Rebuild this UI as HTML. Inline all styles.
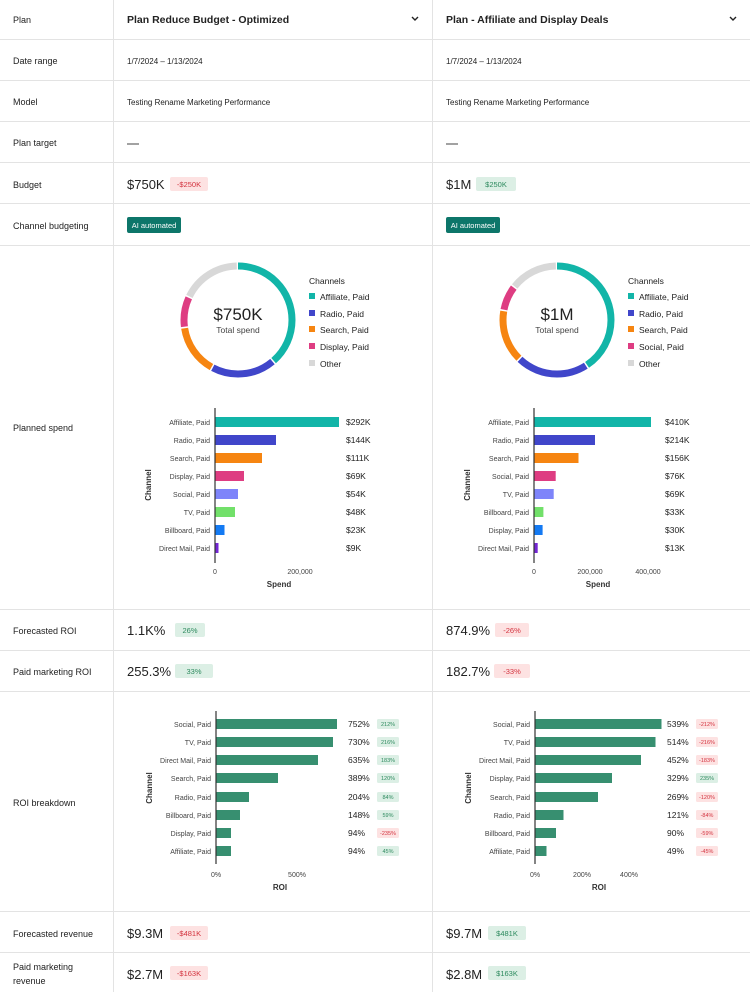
<!DOCTYPE html>
<html><head><meta charset="utf-8"><style>
body{margin:0;background:#fff}
svg text{font-family:"Liberation Sans",sans-serif}
</style></head><body>
<svg width="750" height="992" viewBox="0 0 750 992" xmlns="http://www.w3.org/2000/svg">
<g stroke="#e3e3e3" stroke-width="1">
<line x1="113.5" y1="0" x2="113.5" y2="992"/><line x1="432.5" y1="0" x2="432.5" y2="992"/>
<line x1="0" y1="39.5" x2="750" y2="39.5"/><line x1="0" y1="80.5" x2="750" y2="80.5"/>
<line x1="0" y1="121.5" x2="750" y2="121.5"/><line x1="0" y1="162.5" x2="750" y2="162.5"/>
<line x1="0" y1="203.5" x2="750" y2="203.5"/><line x1="0" y1="245.5" x2="750" y2="245.5"/>
<line x1="0" y1="609.5" x2="750" y2="609.5"/><line x1="0" y1="650.5" x2="750" y2="650.5"/>
<line x1="0" y1="691.5" x2="750" y2="691.5"/><line x1="0" y1="911.5" x2="750" y2="911.5"/>
<line x1="0" y1="952.5" x2="750" y2="952.5"/>
</g>
<g font-size="9" fill="#222">
<text x="13" y="23">Plan</text><text x="13" y="64">Date range</text><text x="13" y="105">Model</text>
<text x="13" y="146">Plan target</text><text x="13" y="188">Budget</text><text x="13" y="229">Channel budgeting</text>
<text x="13" y="431">Planned spend</text><text x="13" y="634">Forecasted ROI</text><text x="13" y="675">Paid marketing ROI</text>
<text x="13" y="806">ROI breakdown</text><text x="13" y="937">Forecasted revenue</text>
<text x="13" y="970">Paid marketing</text><text x="13" y="984">revenue</text>
</g>
<g fill="#222">
<text x="127" y="23" font-size="10.5" font-weight="bold">Plan Reduce Budget - Optimized</text>
<text x="446" y="23" font-size="10.5" font-weight="bold">Plan - Affiliate and Display Deals</text>
<path d="M412 17l3 3 3-3" stroke="#222" stroke-width="1.4" fill="none"/>
<path d="M730 17l3 3 3-3" stroke="#222" stroke-width="1.4" fill="none"/>
<g font-size="8"><text x="127" y="64">1/7/2024 – 1/13/2024</text><text x="446" y="64">1/7/2024 – 1/13/2024</text>
<text x="127" y="105">Testing Rename Marketing Performance</text><text x="446" y="105">Testing Rename Marketing Performance</text></g>
<line x1="127" y1="144" x2="139" y2="144" stroke="#444"/><line x1="446" y1="144" x2="458" y2="144" stroke="#444"/>
<g font-size="13"><text x="127" y="189">$750K</text><text x="446" y="189">$1M</text>
<text x="127" y="635">1.1K%</text><text x="446" y="635">874.9%</text>
<text x="127" y="676">255.3%</text><text x="446" y="676">182.7%</text>
<text x="127" y="938">$9.3M</text><text x="446" y="938">$9.7M</text>
<text x="127" y="979">$2.7M</text><text x="446" y="979">$2.8M</text></g>
</g>
<g font-size="7.5" text-anchor="middle">
<rect x="170" y="177" width="38" height="14" rx="2" fill="#fde2e2"/><text x="189" y="187" fill="#d3333f">-$250K</text>
<rect x="476" y="177" width="40" height="14" rx="2" fill="#dcefe5"/><text x="496" y="187" fill="#2d8a5e">$250K</text>
<rect x="175" y="623" width="30" height="14" rx="2" fill="#dcefe5"/><text x="190" y="633" fill="#2d8a5e">26%</text>
<rect x="495" y="623" width="34" height="14" rx="2" fill="#fde2e2"/><text x="512" y="633" fill="#d3333f">-26%</text>
<rect x="175" y="664" width="38" height="14" rx="2" fill="#dcefe5"/><text x="194" y="674" fill="#2d8a5e">33%</text>
<rect x="494" y="664" width="36" height="14" rx="2" fill="#fde2e2"/><text x="512" y="674" fill="#d3333f">-33%</text>
<rect x="170" y="926" width="38" height="14" rx="2" fill="#fde2e2"/><text x="189" y="936" fill="#d3333f">-$481K</text>
<rect x="488" y="926" width="38" height="14" rx="2" fill="#dcefe5"/><text x="507" y="936" fill="#2d8a5e">$481K</text>
<rect x="170" y="966" width="38" height="14" rx="2" fill="#fde2e2"/><text x="189" y="976" fill="#d3333f">-$163K</text>
<rect x="488" y="966" width="38" height="14" rx="2" fill="#dcefe5"/><text x="507" y="976" fill="#2d8a5e">$163K</text>
<rect x="127" y="217" width="54" height="16" rx="2" fill="#0d766a"/><text x="154" y="228" fill="#fff">AI automated</text>
<rect x="446" y="217" width="54" height="16" rx="2" fill="#0d766a"/><text x="473" y="228" fill="#fff">AI automated</text>
</g>
<!-- donuts -->
<g fill="none" stroke-width="7">
<g transform="translate(238,320) rotate(-90)">
<circle r="54" stroke="#12b5a8" stroke-dasharray="130.6 400" stroke-dashoffset="0"/>
<circle r="54" stroke="#4046ca" stroke-dasharray="63.6 400" stroke-dashoffset="-132.1"/>
<circle r="54" stroke="#f68511" stroke-dasharray="48.7 400" stroke-dashoffset="-197.2"/>
<circle r="54" stroke="#de3d82" stroke-dasharray="29.7 400" stroke-dashoffset="-247.4"/>
<circle r="54" stroke="#d8d8d8" stroke-dasharray="59.1 400" stroke-dashoffset="-278.6"/>
</g>
<g transform="translate(557,320) rotate(-90)">
<circle r="54" stroke="#12b5a8" stroke-dasharray="137.6 400" stroke-dashoffset="0"/>
<circle r="54" stroke="#4046ca" stroke-dasharray="71.1 400" stroke-dashoffset="-139.1"/>
<circle r="54" stroke="#f68511" stroke-dasharray="51.4 400" stroke-dashoffset="-211.7"/>
<circle r="54" stroke="#de3d82" stroke-dasharray="24.3 400" stroke-dashoffset="-264.6"/>
<circle r="54" stroke="#d8d8d8" stroke-dasharray="47.4 400" stroke-dashoffset="-290.4"/>
</g>
</g>
<g text-anchor="middle" fill="#222">
<text x="238" y="320" font-size="17">$750K</text><text x="238" y="333" font-size="8.5" fill="#444">Total spend</text>
<text x="557" y="320" font-size="17">$1M</text><text x="557" y="333" font-size="8.5" fill="#444">Total spend</text>
</g>
<g font-size="8.5" fill="#222">
<text x="309" y="284">Channels</text>
<rect x="309" y="293" width="6" height="6" fill="#12b5a8"/><text x="320" y="300">Affiliate, Paid</text>
<rect x="309" y="310" width="6" height="6" fill="#4046ca"/><text x="320" y="317">Radio, Paid</text>
<rect x="309" y="326" width="6" height="6" fill="#f68511"/><text x="320" y="333">Search, Paid</text>
<rect x="309" y="343" width="6" height="6" fill="#de3d82"/><text x="320" y="350">Display, Paid</text>
<rect x="309" y="360" width="6" height="6" fill="#d8d8d8"/><text x="320" y="367">Other</text>
<text x="628" y="284">Channels</text>
<rect x="628" y="293" width="6" height="6" fill="#12b5a8"/><text x="639" y="300">Affiliate, Paid</text>
<rect x="628" y="310" width="6" height="6" fill="#4046ca"/><text x="639" y="317">Radio, Paid</text>
<rect x="628" y="326" width="6" height="6" fill="#f68511"/><text x="639" y="333">Search, Paid</text>
<rect x="628" y="343" width="6" height="6" fill="#de3d82"/><text x="639" y="350">Social, Paid</text>
<rect x="628" y="360" width="6" height="6" fill="#d8d8d8"/><text x="639" y="367">Other</text>
</g>
<!-- spend bars col1 -->
<g font-size="7" fill="#444" text-anchor="end">
<text x="210" y="425">Affiliate, Paid</text><text x="210" y="443">Radio, Paid</text><text x="210" y="461">Search, Paid</text>
<text x="210" y="479">Display, Paid</text><text x="210" y="497">Social, Paid</text><text x="210" y="515">TV, Paid</text>
<text x="210" y="533">Billboard, Paid</text><text x="210" y="551">Direct Mail, Paid</text>
<text x="529" y="425">Affiliate, Paid</text><text x="529" y="443">Radio, Paid</text><text x="529" y="461">Search, Paid</text>
<text x="529" y="479">Social, Paid</text><text x="529" y="497">TV, Paid</text><text x="529" y="515">Billboard, Paid</text>
<text x="529" y="533">Display, Paid</text><text x="529" y="551">Direct Mail, Paid</text>
</g>
<g>
<rect x="215" y="417" width="124" height="10" fill="#12b5a8"/><rect x="215" y="435" width="61" height="10" fill="#4046ca"/>
<rect x="215" y="453" width="47" height="10" fill="#f68511"/><rect x="215" y="471" width="29" height="10" fill="#de3d82"/>
<rect x="215" y="489" width="23" height="10" fill="#7e84fa"/><rect x="215" y="507" width="20" height="10" fill="#72e06a"/>
<rect x="215" y="525" width="9.5" height="10" fill="#147af3"/><rect x="215" y="543" width="3.5" height="10" fill="#7326d3"/>
<rect x="534" y="417" width="117" height="10" fill="#12b5a8"/><rect x="534" y="435" width="61" height="10" fill="#4046ca"/>
<rect x="534" y="453" width="44.5" height="10" fill="#f68511"/><rect x="534" y="471" width="21.7" height="10" fill="#de3d82"/>
<rect x="534" y="489" width="19.7" height="10" fill="#7e84fa"/><rect x="534" y="507" width="9.4" height="10" fill="#72e06a"/>
<rect x="534" y="525" width="8.6" height="10" fill="#147af3"/><rect x="534" y="543" width="3.7" height="10" fill="#7326d3"/>
<line x1="215" y1="408" x2="215" y2="563" stroke="#333" stroke-width="1.2"/>
<line x1="534" y1="408" x2="534" y2="563" stroke="#333" stroke-width="1.2"/>
</g>
<g font-size="8.5" fill="#222">
<text x="346" y="425">$292K</text><text x="346" y="443">$144K</text><text x="346" y="461">$111K</text><text x="346" y="479">$69K</text>
<text x="346" y="497">$54K</text><text x="346" y="515">$48K</text><text x="346" y="533">$23K</text><text x="346" y="551">$9K</text>
<text x="665" y="425">$410K</text><text x="665" y="443">$214K</text><text x="665" y="461">$156K</text><text x="665" y="479">$76K</text>
<text x="665" y="497">$69K</text><text x="665" y="515">$33K</text><text x="665" y="533">$30K</text><text x="665" y="551">$13K</text>
</g>
<g font-size="7" fill="#444" text-anchor="middle">
<text x="215" y="574">0</text><text x="300" y="574">200,000</text>
<text x="534" y="574">0</text><text x="590" y="574">200,000</text><text x="648" y="574">400,000</text>
<text x="216" y="877">0%</text><text x="297" y="877">500%</text>
<text x="535" y="877">0%</text><text x="582" y="877">200%</text><text x="629" y="877">400%</text>
</g>
<g font-size="8" font-weight="bold" fill="#333" text-anchor="middle">
<text x="279" y="587">Spend</text><text x="598" y="587">Spend</text>
<text x="280" y="890">ROI</text><text x="599" y="890">ROI</text>
<text transform="translate(151,485) rotate(-90)">Channel</text>
<text transform="translate(470,485) rotate(-90)">Channel</text>
<text transform="translate(152,788) rotate(-90)">Channel</text>
<text transform="translate(471,788) rotate(-90)">Channel</text>
</g>
<!-- ROI col1 -->
<g font-size="7" fill="#444" text-anchor="end">
<text x="211" y="727">Social, Paid</text><text x="211" y="745">TV, Paid</text><text x="211" y="763">Direct Mail, Paid</text>
<text x="211" y="781">Search, Paid</text><text x="211" y="800">Radio, Paid</text><text x="211" y="818">Billboard, Paid</text>
<text x="211" y="836">Display, Paid</text><text x="211" y="854">Affiliate, Paid</text>
<text x="530" y="727">Social, Paid</text><text x="530" y="745">TV, Paid</text><text x="530" y="763">Direct Mail, Paid</text>
<text x="530" y="781">Display, Paid</text><text x="530" y="800">Search, Paid</text><text x="530" y="818">Radio, Paid</text>
<text x="530" y="836">Billboard, Paid</text><text x="530" y="854">Affiliate, Paid</text>
</g>
<g fill="#378f70">
<rect x="216" y="719" width="121" height="10"/><rect x="216" y="737" width="117" height="10"/>
<rect x="216" y="755" width="102" height="10"/><rect x="216" y="773" width="62" height="10"/>
<rect x="216" y="792" width="33" height="10"/><rect x="216" y="810" width="24" height="10"/>
<rect x="216" y="828" width="15" height="10"/><rect x="216" y="846" width="15" height="10"/>
<rect x="535" y="719" width="126.5" height="10"/><rect x="535" y="737" width="120.5" height="10"/>
<rect x="535" y="755" width="106" height="10"/><rect x="535" y="773" width="77" height="10"/>
<rect x="535" y="792" width="63" height="10"/><rect x="535" y="810" width="28.5" height="10"/>
<rect x="535" y="828" width="21" height="10"/><rect x="535" y="846" width="11.5" height="10"/>
</g>
<line x1="216" y1="711" x2="216" y2="864" stroke="#333" stroke-width="1.2"/>
<line x1="535" y1="711" x2="535" y2="864" stroke="#333" stroke-width="1.2"/>
<g font-size="8.5" fill="#222">
<text x="348" y="727">752%</text><text x="348" y="745">730%</text><text x="348" y="763">635%</text><text x="348" y="781">389%</text>
<text x="348" y="800">204%</text><text x="348" y="818">148%</text><text x="348" y="836">94%</text><text x="348" y="854">94%</text>
<text x="667" y="727">539%</text><text x="667" y="745">514%</text><text x="667" y="763">452%</text><text x="667" y="781">329%</text>
<text x="667" y="800">269%</text><text x="667" y="818">121%</text><text x="667" y="836">90%</text><text x="667" y="854">49%</text>
</g>
<g font-size="5.5" text-anchor="middle">
<g fill="#dcefe5"><rect x="377" y="719" width="22" height="10" rx="1.5"/><rect x="377" y="737" width="22" height="10" rx="1.5"/>
<rect x="377" y="755" width="22" height="10" rx="1.5"/><rect x="377" y="773" width="22" height="10" rx="1.5"/>
<rect x="377" y="792" width="22" height="10" rx="1.5"/><rect x="377" y="810" width="22" height="10" rx="1.5"/>
<rect x="377" y="846" width="22" height="10" rx="1.5"/><rect x="696" y="773" width="22" height="10" rx="1.5"/></g>
<g fill="#fde2e2"><rect x="377" y="828" width="22" height="10" rx="1.5"/>
<rect x="696" y="719" width="22" height="10" rx="1.5"/><rect x="696" y="737" width="22" height="10" rx="1.5"/>
<rect x="696" y="755" width="22" height="10" rx="1.5"/><rect x="696" y="792" width="22" height="10" rx="1.5"/>
<rect x="696" y="810" width="22" height="10" rx="1.5"/><rect x="696" y="828" width="22" height="10" rx="1.5"/>
<rect x="696" y="846" width="22" height="10" rx="1.5"/></g>
<g fill="#2d8a5e"><text x="388" y="726">212%</text><text x="388" y="744">216%</text><text x="388" y="762">183%</text>
<text x="388" y="780">120%</text><text x="388" y="799">84%</text><text x="388" y="817">59%</text><text x="388" y="853">45%</text>
<text x="707" y="780">235%</text></g>
<g fill="#d3333f"><text x="388" y="835">-235%</text><text x="707" y="726">-212%</text><text x="707" y="744">-216%</text>
<text x="707" y="762">-183%</text><text x="707" y="799">-120%</text><text x="707" y="817">-84%</text>
<text x="707" y="835">-59%</text><text x="707" y="853">-45%</text></g>
</g>
</svg>
</body></html>
